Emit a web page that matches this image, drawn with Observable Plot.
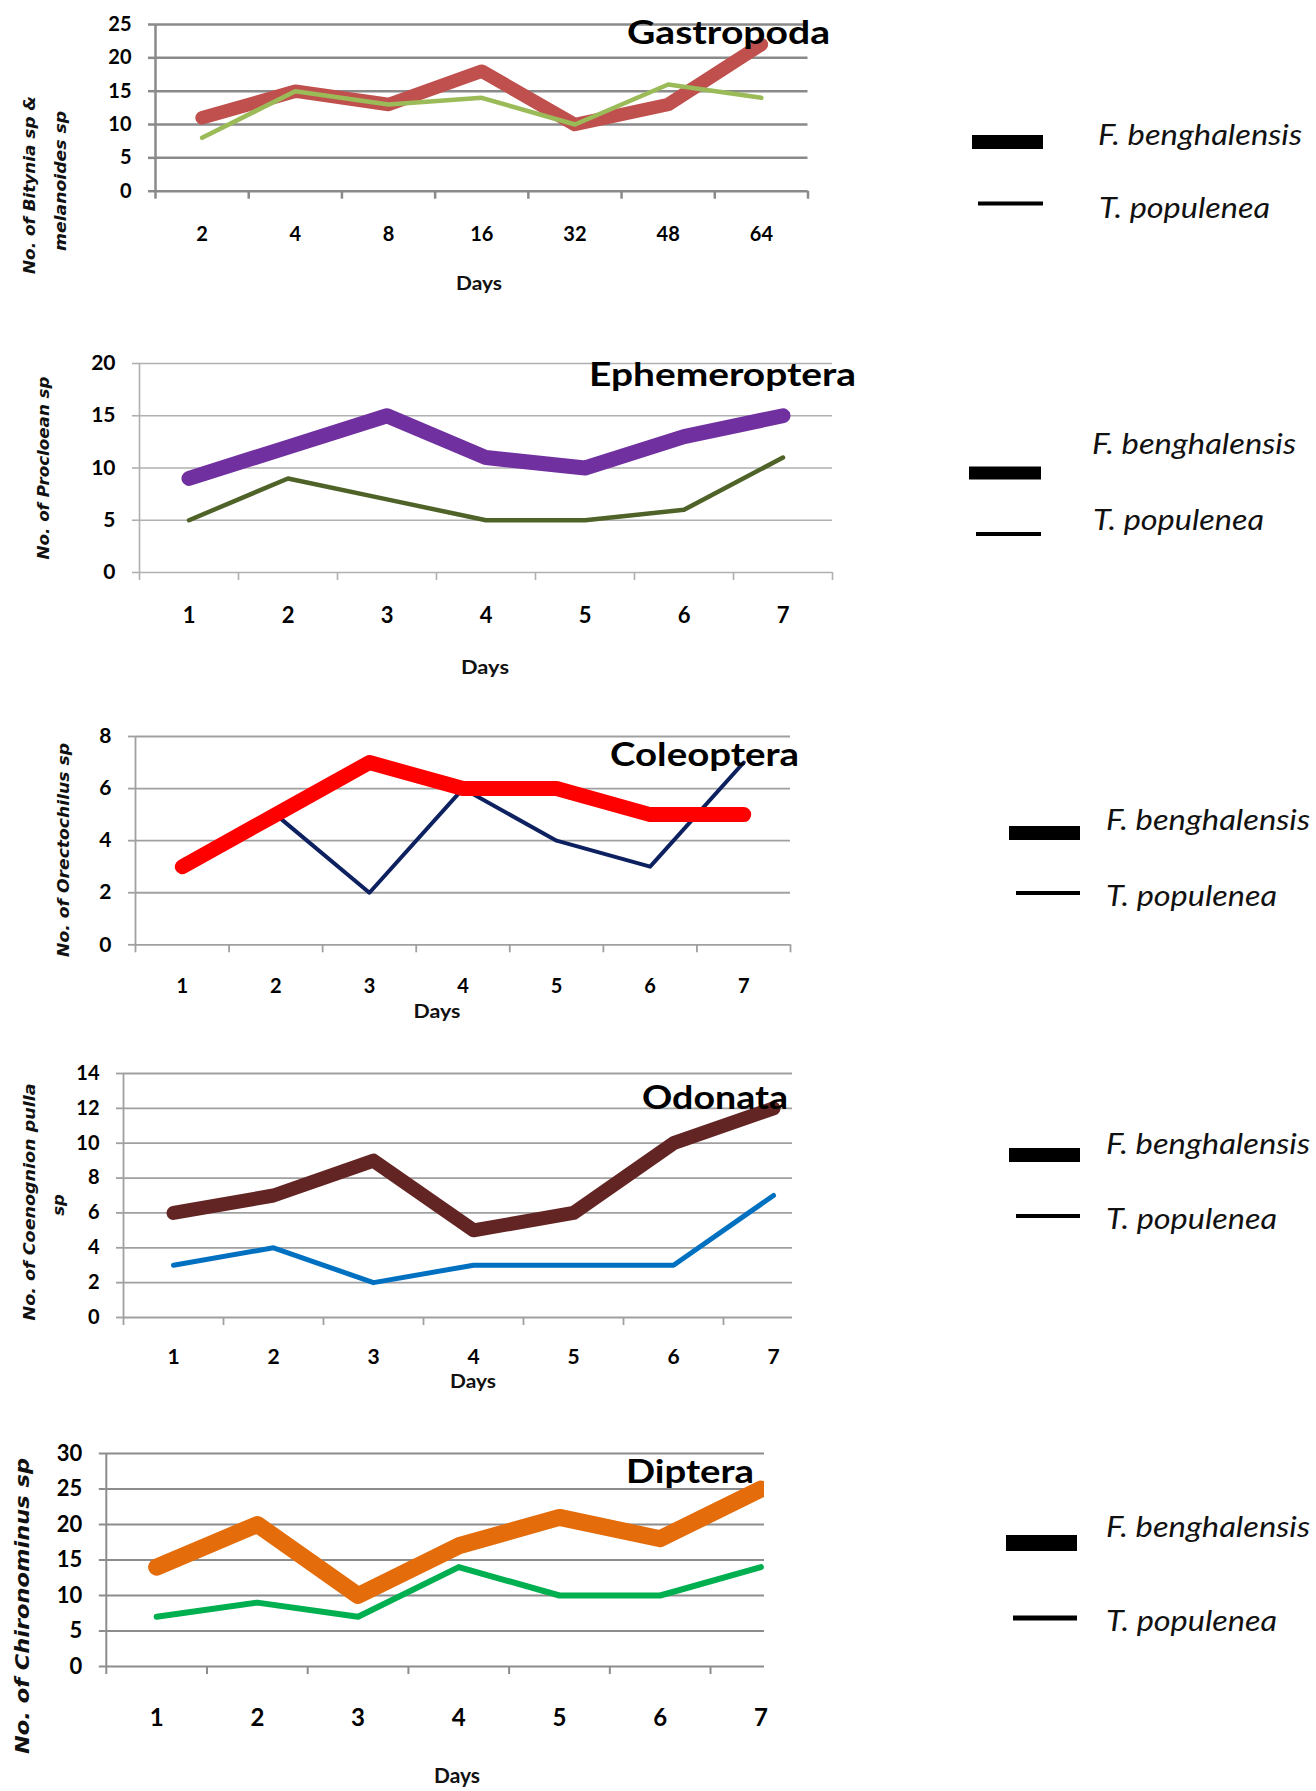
<!DOCTYPE html>
<html>
<head>
<meta charset="utf-8">
<script src="https://cdn.jsdelivr.net/npm/d3@7"></script>
<script src="https://cdn.jsdelivr.net/npm/@observablehq/plot@0.6"></script>
<style>
  body { margin: 0; background: #fff; }
  #page { position: relative; width: 1316px; height: 1791px; overflow: hidden; background: #fff; }
</style>
</head>
<body>
<div id="page"></div>
<script>
// ---------- DATA ----------
const dayIndex = [1, 2, 3, 4, 5, 6, 7];
const gastroDays = ["2", "4", "8", "16", "32", "48", "64"];
const seqDays = ["1", "2", "3", "4", "5", "6", "7"];
const seriesNames = ["F. benghalensis", "T. populenea"];

const gastroF = [11, 15, 13, 18, 10, 13, 22];
const gastroT = [8, 15, 13, 14, 10, 16, 14];
const ephemF = [9, 12, 15, 11, 10, 13, 15];
const ephemT = [5, 9, 7, 5, 5, 6, 11];
const coleoF = [3, 5, 7, 6, 6, 5, 5];
const coleoT = [3, 5, 2, 6, 4, 3, 7];
const odoF = [6, 7, 9, 5, 6, 10, 12];
const odoT = [3, 4, 2, 3, 3, 3, 7];
const dipF = [14, 20, 10, 17, 21, 18, 25];
const dipT = [7, 9, 7, 14, 10, 10, 14];

const gastroTicks = [0, 5, 10, 15, 20, 25];
const ephemTicks = [0, 5, 10, 15, 20];
const coleoTicks = [0, 2, 4, 6, 8];
const odoTicks = [0, 2, 4, 6, 8, 10, 12, 14];
const dipTicks = [0, 5, 10, 15, 20, 25, 30];

const titles = ["Gastropoda", "Ephemeroptera", "Coleoptera", "Odonata", "Diptera"];
const yLabels = [
  ["No. of Bitynia sp &", "melanoides sp"],
  ["No. of Procloean sp"],
  ["No. of Orectochilus sp"],
  ["No. of Coenognion pulla", "sp"],
  ["No. of Chironominus sp"]
];
const xLabel = "Days";

const panelsData = [
  {labels: gastroDays, F: gastroF, T: gastroT, ticks: gastroTicks},
  {labels: seqDays, F: ephemF, T: ephemT, ticks: ephemTicks},
  {labels: seqDays, F: coleoF, T: coleoT, ticks: coleoTicks},
  {labels: seqDays, F: odoF, T: odoT, ticks: odoTicks},
  {labels: seqDays, F: dipF, T: dipT, ticks: dipTicks}
];

// ---------- LAYOUT / STYLE ----------
const layout = [
  {x0: 155, x1: 807.5, xEnd: 7.5, yTop: 24, yZero: 190.7, labelY: 233, xFont: 20, yFont: 20,
   grid: "#8a8a8a", gridW: 2.5, colorF: "#c0504d", colorT: "#9bbb59", wF: 13.5, wT: 4.5, tOnTop: true},
  {x0: 139, x1: 832, xEnd: 7.5, yTop: 363, yZero: 572, labelY: 615, xFont: 22, yFont: 21,
   grid: "#b0b0b0", gridW: 1.6, colorF: "#7030a0", colorT: "#4f6228", wF: 15, wT: 4.5},
  {x0: 135, x1: 790, xEnd: 7.5, yTop: 735.7, yZero: 944, labelY: 985, xFont: 20, yFont: 21,
   grid: "#a0a0a0", gridW: 1.8, colorF: "#ff0000", colorT: "#0d2060", wF: 15, wT: 4},
  {x0: 123, x1: 792, xEnd: 7.19, yTop: 1073, yZero: 1317, labelY: 1356, xFont: 21, yFont: 20,
   grid: "#a0a0a0", gridW: 1.8, colorF: "#632523", colorT: "#0070c0", wF: 14, wT: 5},
  {x0: 105.8, x1: 764, xEnd: 7.036, yTop: 1453, yZero: 1666, labelY: 1717, xFont: 24, yFont: 22,
   grid: "#8c8c8c", gridW: 2, colorF: "#e46c0a", colorT: "#00b050", wF: 17, wT: 6, clip: true}
];

const titleLayout = [
  {x: 627, len: 203, cy: 32}, {x: 589, len: 267, cy: 374}, {x: 610, len: 189, cy: 754},
  {x: 642, len: 146, cy: 1097}, {x: 626, len: 128, cy: 1471}
];
const daysLayout = [
  {cx: 479, cy: 284, len: 46, size: 18}, {cx: 485, cy: 668, len: 48, size: 18},
  {cx: 437, cy: 1012, len: 47, size: 18}, {cx: 473, cy: 1382, len: 46, size: 18},
  {cx: 457, cy: 1776, len: 46, size: 20}
];
const yLabelLayout = [
  [{cx: 29, cy: 185, len: 178, size: 16}, {cx: 60, cy: 181, len: 140, size: 16}],
  [{cx: 43, cy: 468, len: 183, size: 16}],
  [{cx: 63, cy: 850, len: 214, size: 16.5}],
  [{cx: 29, cy: 1202, len: 237, size: 16.5}, {cx: 58, cy: 1205, len: null, size: 16.5}],
  [{cx: 22, cy: 1606, len: 296, size: 20}]
];
const legendLayout = [
  {thick: {x: 972, w: 71, cy: 142, h: 14}, thin: {x: 978, w: 65, cy: 203.5, h: 4}, fx: 1098, fy: 135, tx: 1099, ty: 208},
  {thick: {x: 969, w: 72, cy: 473, h: 13}, thin: {x: 976, w: 65, cy: 534, h: 4}, fx: 1092, fy: 444, tx: 1093, ty: 520},
  {thick: {x: 1009, w: 71, cy: 833, h: 14}, thin: {x: 1016, w: 64, cy: 893, h: 4}, fx: 1106, fy: 820, tx: 1106, ty: 896},
  {thick: {x: 1009, w: 71, cy: 1155, h: 14}, thin: {x: 1016, w: 64, cy: 1216, h: 4}, fx: 1106, fy: 1144, tx: 1106, ty: 1219},
  {thick: {x: 1006, w: 71, cy: 1543, h: 16}, thin: {x: 1013, w: 64, cy: 1618, h: 5}, fx: 1106, fy: 1527, tx: 1106, ty: 1621}
];
const legendLen = [204, 171];

// ---------- DRAW ----------
const page = document.getElementById("page");
const boundaries = [0.5, 1.5, 2.5, 3.5, 4.5, 5.5, 6.5, 7.5];

panelsData.forEach((d, idx) => {
  const L = layout[idx];
  const mt = 30;
  const top = L.yTop - mt;
  const plotH = L.yZero - L.yTop;
  const height = Math.ceil(L.labelY + 25 - top);
  const mb = height - mt - plotH;
  const width = Math.ceil(L.x1 + 30);
  const mr = width - L.x1;
  const yMax = d.ticks[d.ticks.length - 1];
  const fData = dayIndex.map((i, k) => ({i, v: d.F[k]}));
  const tData = dayIndex.map((i, k) => ({i, v: d.T[k]}));
  const pad = (L.labelY - L.yZero) - 0.36 * L.xFont;
  const bounds = boundaries.filter(b => b <= L.xEnd + 1e-6);
  const lineOpts = {x: "i", y: "v", strokeLinecap: "round", strokeLinejoin: "round", clip: !!L.clip};
  const lineF = Plot.line(fData, {...lineOpts, stroke: L.colorF, strokeWidth: L.wF});
  const lineT = Plot.line(tData, {...lineOpts, stroke: L.colorT, strokeWidth: L.wT});
  const svg = Plot.plot({
    width, height,
    marginLeft: L.x0, marginRight: mr, marginTop: mt, marginBottom: mb,
    x: {type: "linear", domain: [0.5, L.xEnd]},
    y: {domain: [0, yMax]},
    style: {fontFamily: "Lato, 'Open Sans', sans-serif", background: "transparent", color: "#000", overflow: "visible"},
    marks: [
      Plot.gridY(d.ticks, {stroke: L.grid, strokeOpacity: 1, strokeWidth: L.gridW}),
      Plot.ruleX([0.5], {stroke: L.grid, strokeWidth: L.gridW}),
      Plot.axisY(d.ticks, {tickSize: 7, tickPadding: 17, stroke: L.grid, strokeWidth: L.gridW,
        fill: "#000", fontSize: L.yFont, fontWeight: "bold", label: null}),
      Plot.axisX(bounds, {tickSize: 8, tickFormat: () => "", stroke: L.grid, strokeWidth: L.gridW, label: null}),
      Plot.axisX(dayIndex, {tickSize: 0, tickPadding: pad, tickFormat: i => d.labels[i - 1],
        fontSize: L.xFont, fontWeight: "bold", fill: "#000", label: null}),
      ...(L.tOnTop ? [lineF, lineT] : [lineT, lineF])
    ]
  });
  svg.style.position = "absolute";
  svg.style.left = "0px";
  svg.style.top = top + "px";
  svg.style.maxWidth = "none";
  page.appendChild(svg);
});

// overlay for titles, axis titles and legends
const ov = d3.select(page).append("svg")
  .attr("width", 1316).attr("height", 1791)
  .style("position", "absolute").style("left", "0px").style("top", "0px")
  .style("overflow", "visible");

titles.forEach((t, i) => {
  const T = titleLayout[i];
  const size = 33;
  ov.append("text").text(t)
    .attr("x", T.x).attr("y", T.cy + 0.36 * size)
    .attr("textLength", T.len).attr("lengthAdjust", "spacingAndGlyphs")
    .style("font-family", "Lato, sans-serif").style("font-weight", "bold")
    .style("font-size", size + "px").attr("fill", "#000");
});

daysLayout.forEach(D => {
  ov.append("text").text(xLabel)
    .attr("x", D.cx - D.len / 2).attr("y", D.cy + 0.36 * D.size)
    .attr("textLength", D.len).attr("lengthAdjust", "spacingAndGlyphs")
    .style("font-family", "Lato, sans-serif").style("font-weight", "bold")
    .style("font-size", D.size + "px").attr("fill", "#111");
});

yLabels.forEach((lines, i) => {
  lines.forEach((line, j) => {
    const Y = yLabelLayout[i][j];
    const t = ov.append("text").text(line)
      .attr("transform", `translate(${Y.cx},${Y.cy}) rotate(-90)`)
      .attr("text-anchor", "middle")
      .attr("dy", "0.36em")
      .style("font-family", "'DejaVu Sans', Verdana, sans-serif")
      .style("font-weight", "bold").style("font-style", "italic")
      .style("font-size", Y.size + "px").attr("fill", "#111");
    if (Y.len) t.attr("textLength", Y.len).attr("lengthAdjust", "spacingAndGlyphs");
  });
});

legendLayout.forEach(G => {
  ov.append("rect").attr("x", G.thick.x).attr("y", G.thick.cy - G.thick.h / 2)
    .attr("width", G.thick.w).attr("height", G.thick.h).attr("fill", "#000");
  ov.append("rect").attr("x", G.thin.x).attr("y", G.thin.cy - G.thin.h / 2)
    .attr("width", G.thin.w).attr("height", G.thin.h).attr("fill", "#000");
  const size = 28;
  [[seriesNames[0], G.fx, G.fy, legendLen[0]], [seriesNames[1], G.tx, G.ty, legendLen[1]]].forEach(([s, x, cy, len]) => {
    ov.append("text").text(s)
      .attr("x", x).attr("y", cy + 0.36 * size)
      .attr("textLength", len).attr("lengthAdjust", "spacingAndGlyphs")
      .style("font-family", "Lato, sans-serif").style("font-style", "italic")
      .style("font-size", size + "px").attr("fill", "#111");
  });
});
</script>
</body>
</html>
